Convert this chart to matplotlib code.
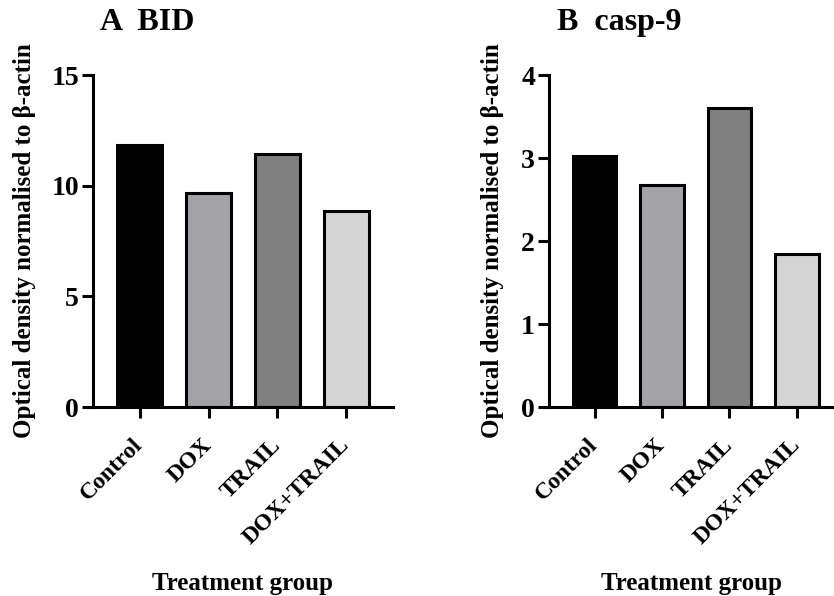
import matplotlib.pyplot as plt
import numpy as np

plt.rcParams['font.family'] = ['Liberation Serif', 'DejaVu Serif']
plt.rcParams['font.weight'] = 'bold'

groups = ['Control', 'DOX', 'TRAIL', 'DOX+TRAIL']
bid = [11.85, 9.65, 11.45, 8.85]
casp9 = [3.02, 2.67, 3.60, 1.85]
colors = ['#000000', '#a3a2a7', '#808080', '#d4d4d4']

fig = plt.figure(figsize=(8.34, 5.96), dpi=100)

def panel(rect, vals, ymax, step, xlim, title, title_x):
    ax = fig.add_axes(rect)
    x = np.arange(len(groups))
    ax.bar(x, vals, width=0.65, color=colors, edgecolor='black', linewidth=2.2, zorder=2)
    ax.set_xlim(*xlim)
    ax.set_ylim(0, ymax)
    ax.set_yticks(np.arange(0, ymax + step / 2, step))
    ax.set_xticks(x)
    ax.set_xticklabels(groups, rotation=45, ha='right', va='center',
                       rotation_mode='anchor', fontsize=17)
    for s in ['top', 'right']:
        ax.spines[s].set_visible(False)
    for s in ['left', 'bottom']:
        ax.spines[s].set_linewidth(2.2)
    ax.spines['bottom'].set_zorder(3)
    ax.tick_params(axis='both', width=2.2, length=8)
    ax.tick_params(axis='y', labelsize=20, pad=2)
    ax.tick_params(axis='x', pad=17)
    ax.set_ylabel('Optical density normalised to β-actin', fontsize=18, fontweight='bold')
    ax.set_xlabel('Treatment group', fontsize=18, fontweight='bold')
    ax.xaxis.set_label_coords(0.5, -0.497)
    fig.text(title_x, 0.962, title, fontsize=23, fontweight='bold', va='center')
    return ax

axA = panel([93 / 834, 0.317, 300 / 834, 0.557], bid, 15, 5, (-0.68, 3.68), 'A  BID', 100 / 834)
axA.yaxis.set_label_coords(-0.19, 0.5)
axB = panel([549 / 834, 0.317, 285 / 834, 0.557], casp9, 4, 1, (-0.675, 3.55), 'B  casp-9', 557 / 834)
axB.yaxis.set_label_coords(-0.157, 0.5)

fig.savefig('out.png', dpi=100)
